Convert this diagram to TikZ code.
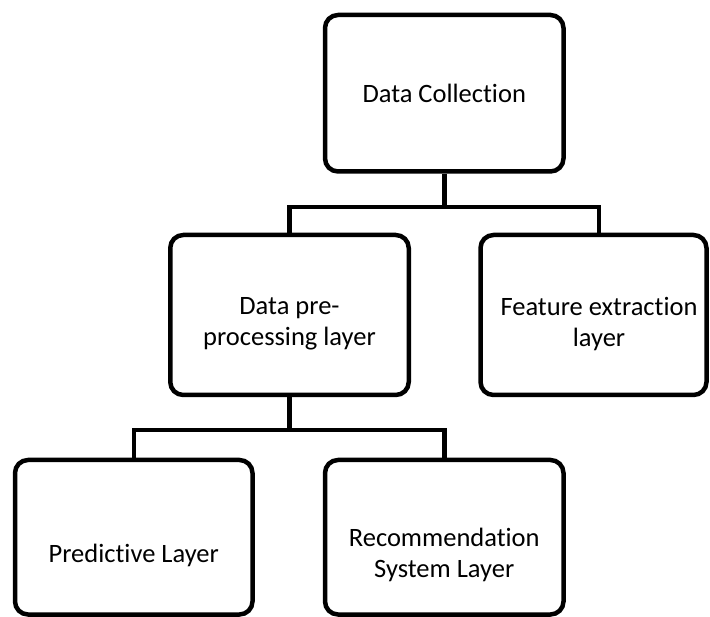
\documentclass[tikz,border=0pt]{standalone}
\usepackage{fontspec}
\setmainfont[Ligatures=NoCommon]{Carlito}
\usetikzlibrary{calc}
\begin{document}
\begin{tikzpicture}[x=1pt,y=-1pt,
  box/.style={draw, line width=4.5pt, rounded corners=13pt, inner sep=0pt},
  txt/.style={align=center, inner sep=0pt, font=\fontsize{26.5}{31}\selectfont},
  link/.style={line width=4.5pt}]
\useasboundingbox (0,0) rectangle (710,617);
% boxes
\node[box, minimum width=238.5pt, minimum height=156.5pt] (dc) at (444.25,93.25) {};
\node[txt] at (dc.center) {Data Collection};
\node[box, minimum width=238.5pt, minimum height=160pt] (pp) at (289.5,315) {};
\node[txt] at ($(pp.center)+(0,9)$) {Data pre-\\processing layer};
\node[box, minimum width=226pt, minimum height=160pt] (fe) at (593.5,315) {};
\node[txt] at ($(fe.center)+(5.5,9)$) {Feature extraction\\layer};
\node[box, minimum width=237.5pt, minimum height=154.5pt] (pl) at (133.75,537.25) {};
\node[txt] at ($(pl.center)+(0,18)$) {Predictive Layer};
\node[box, minimum width=238.5pt, minimum height=154.5pt] (rs) at (444.25,537.25) {};
\node[txt] at ($(rs.center)+(0,18)$) {Recommendation\\System Layer};
% connectors
\path (dc.south) ++(0,33.5) coordinate (j1);
\draw[link] (dc.south) -- (j1);
\draw[link] (pp.north) |- (j1) -| ([xshift=5.5pt]fe.north);
\path (pp.south) ++(0,33) coordinate (j2);
\draw[link] (pp.south) -- (j2);
\draw[link] (pl.north) |- (j2) -| (rs.north);
\end{tikzpicture}
\end{document}
